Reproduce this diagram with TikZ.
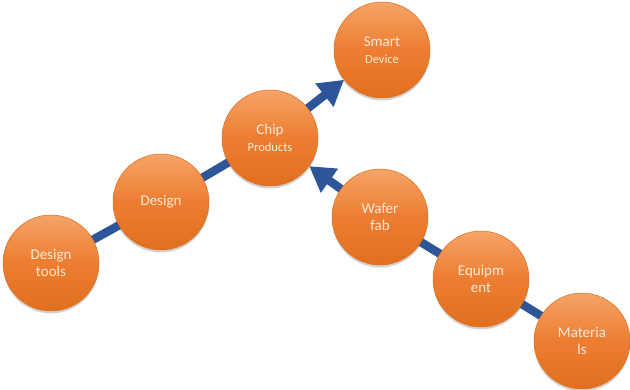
\documentclass[tikz,border=0pt]{standalone}
\usepackage{fontspec}
\setmainfont{Carlito}
\usetikzlibrary{arrows.meta,shadows,backgrounds}
\definecolor{balltop}{HTML}{F4A468}
\definecolor{ballmid}{HTML}{ED7D31}
\definecolor{ballbot}{HTML}{E0701E}
\definecolor{ballrim}{HTML}{DE7021}
\definecolor{balltext}{HTML}{FDE9D9}
\definecolor{linkblue}{HTML}{2E5597}
\begin{document}
\begin{tikzpicture}[x=1pt,y=-1pt,
  ball/.style={circle,minimum size=96pt,inner sep=0pt,draw=ballrim,line width=0.5pt,
    top color=balltop,bottom color=ballbot,middle color=ballmid,
    text=balltext,align=center,font=\fontsize{15}{17}\selectfont,
    drop shadow={shadow xshift=0pt,shadow yshift=-2.5pt,opacity=0.25,fill=black!70}},
  link/.style={draw=linkblue,line width=8.5pt},
  tip/.style={-{Triangle[length=25pt,width=28pt]}}
]
\useasboundingbox (0,0) rectangle (630,390);
\node[ball] (dt) at (51,263) {Design\\tools};
\node[ball] (d) at (161,202) {Design};
\node[ball] (chip) at (270,138) {Chip\\{\fontsize{12.5}{15}\selectfont Products}};
\node[ball] (smart) at (382,50) {Smart\\{\fontsize{12.5}{15}\selectfont Device}};
\node[ball] (wf) at (380,217) {Wafer\\fab};
\node[ball] (eq) at (481,279) {Equipm\\ent};
\node[ball] (mat) at (582,341) {Materia\\ls};
\begin{pgfonlayer}{background}
\draw[link] (dt.center) -- (d.center);
\draw[link] (d.center) -- (chip.center);
\draw[link,tip] (chip.center) -- (smart);
\draw[link] (mat.center) -- (eq.center);
\draw[link] (eq.center) -- (wf.center);
\draw[link,tip] (wf.center) -- (chip);
\end{pgfonlayer}
\end{tikzpicture}
\end{document}
